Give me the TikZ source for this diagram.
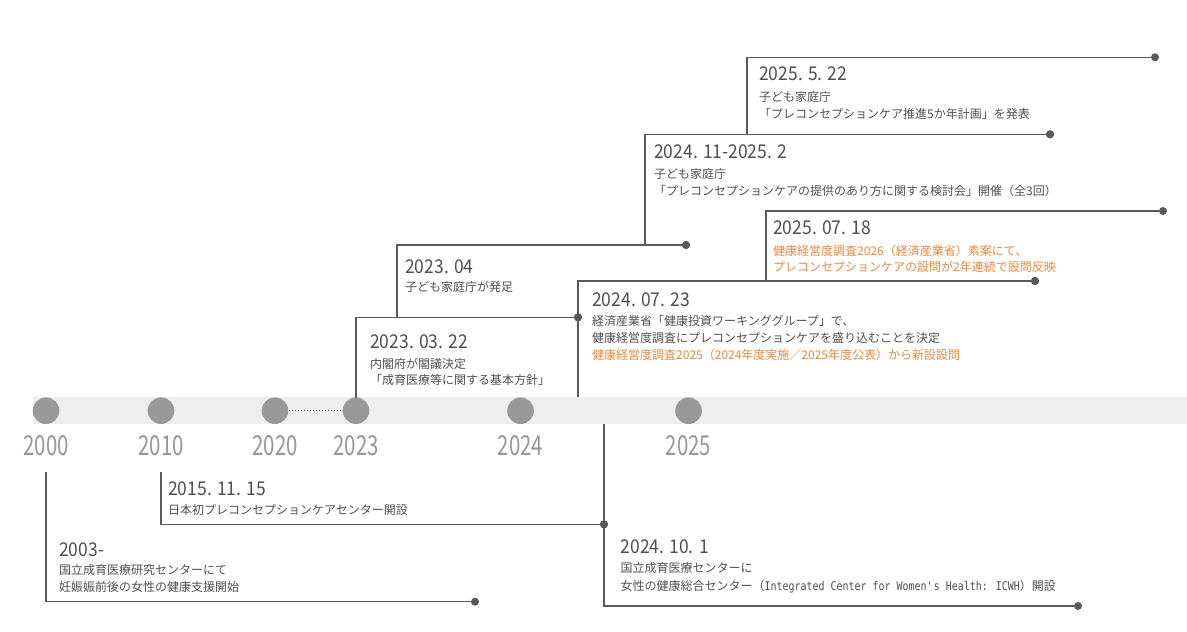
\documentclass[tikz,border=0pt]{standalone}
\usepackage{fontspec}
\setmainfont{Noto Sans CJK JP}
\newfontfamily\jpfont{Noto Sans CJK JP}
\newfontfamily\headfont[FakeStretch=0.92]{Noto Sans CJK JP}
\newfontfamily\yearfont[FakeStretch=0.74]{Noto Sans CJK JP}
\newfontfamily\latinmono[FakeStretch=0.83]{DejaVu Sans Mono}
\definecolor{linec}{HTML}{595959}
\definecolor{txtc}{HTML}{505050}
\definecolor{yearc}{HTML}{979797}
\definecolor{circc}{HTML}{999999}
\definecolor{bandc}{HTML}{EEEEEE}
\definecolor{orangec}{HTML}{E98A3E}
\tikzset{
  conn/.style={draw=linec, line width=1.4pt},
  enddot/.style={circle, fill=linec, inner sep=0pt, minimum size=8pt},
  yeardot/.style={circle, fill=circc, inner sep=0pt, minimum size=26.6pt},
  yearlbl/.style={anchor=base, text=yearc, inner sep=0pt, font=\yearfont\fontsize{27.5}{27.5}\selectfont},
  headlbl/.style={anchor=base west, text=txtc, inner sep=0pt, font=\headfont\fontsize{19}{19}\selectfont},
  bodylbl/.style={anchor=base west, text=txtc, inner sep=0pt, font=\jpfont\fontsize{12}{12}\selectfont},
  orangelbl/.style={bodylbl, text=orangec},
}
\begin{document}
\begin{tikzpicture}[x=1pt,y=-1pt]
\useasboundingbox (0,0) rectangle (1187,632);
\fill[white] (0,0) rectangle (1187,632);
% timeline band
\fill[bandc] (33,397.3) rectangle (1187,424);
% year dots
\node[yeardot] (y2000) at (46,410.7) {};
\node[yeardot] (y2010) at (161,410.7) {};
\node[yeardot] (y2020) at (275,410.7) {};
\node[yeardot] (y2023) at (356,410.7) {};
\node[yeardot] (y2024) at (520.5,410.7) {};
\node[yeardot] (y2025) at (688.5,410.7) {};
\draw[linec, line width=1.2pt, dash pattern=on 1.2pt off 1.8pt] (y2020) -- (y2023);
% year labels
\node[yearlbl] (l2000) at (46,455) {2000};
\node[yearlbl] (l2010) at (161,455) {2010};
\node[yearlbl] (l2020) at (275,455) {2020};
\node[yearlbl] (l2023) at (356,455) {2023};
\node[yearlbl] (l2024) at (520.5,455) {2024};
\node[yearlbl] (l2025) at (688.5,455) {2025};

% --- 2003-
\coordinate (v1) at (46,472);
\node[enddot] (d1) at (475,601.7) {};
\draw[conn] (v1) |- (d1);
\node[headlbl] (h1) at (59,556) {2003-};
\node[bodylbl] (b1a) at (59,574.5) {国立成育医療研究センターにて};
\node[bodylbl] (b1b) at (59,591.8) {妊娠娠前後の女性の健康支援開始};

% --- 2015.11.15
\coordinate (v2) at (161,472);
\node[enddot] (d2) at (604,524.3) {};
\draw[conn] (v2) |- (d2);
\node[headlbl] (h2) at (168,495.3) {2015. 11. 15};
\node[bodylbl] (b2a) at (168,514.5) {日本初プレコンセプションケアセンター開設};

% --- 2024.10.1
\coordinate (v3) at (604,424);
\node[enddot] (d3) at (1078,606) {};
\draw[conn] (v3) |- (d3);
\node[enddot] at (d2) {};
\node[headlbl] (h3) at (620.5,553) {2024. 10. 1};
\node[bodylbl] (b3a) at (620.5,572.8) {国立成育医療センターに};
\node[bodylbl] (b3b) at (620.5,590.2) {女性の健康総合センター（{\latinmono Integrated Center for Women\textquotesingle s Health: ICWH}）開設};

% --- 2023.03.22
\coordinate (v4) at (356,398);
\node[enddot] (d4) at (578,317.3) {};
\draw[conn] (v4) |- (d4);
\node[headlbl] (h4) at (370,348.7) {2023. 03. 22};
\node[bodylbl] (b4a) at (370,368.8) {内閣府が閣議決定};
\node[bodylbl] (b4b) at (370,384.5) {「成育医療等に関する基本方針」};

% --- 2023.04
\coordinate (v5) at (397,317.3);
\node[enddot] (d5) at (686,245) {};
\draw[conn] (v5) |- (d5);
\node[headlbl] (h5) at (405,273) {2023. 04};
\node[bodylbl] (b5a) at (405,291.2) {子ども家庭庁が発足};

% --- 2024.07.23
\coordinate (v6) at (578,397.3);
\node[enddot] (d6) at (1035,281) {};
\draw[conn] (v6) |- (d6);
\node[enddot] at (d4) {};
\node[headlbl] (h6) at (592,306) {2024. 07. 23};
\node[bodylbl] (b6a) at (592,325.5) {経済産業省「健康投資ワーキンググループ」で、};
\node[bodylbl] (b6b) at (592,342.8) {健康経営度調査にプレコンセプションケアを盛り込むことを決定};
\node[orangelbl] (b6c) at (592,359.5) {健康経営度調査2025（2024年度実施／2025年度公表）から新設設問};

% --- 2024.11-2025.2
\coordinate (v7) at (645,245);
\node[enddot] (d7) at (1050,134.3) {};
\draw[conn] (v7) |- (d7);
\node[enddot] at (d5) {};
\node[headlbl] (h7) at (654,158.7) {2024. 11-2025. 2};
\node[bodylbl] (b7a) at (654,178.8) {子ども家庭庁};
\node[bodylbl] (b7b) at (654,195.5) {「プレコンセプションケアの提供のあり方に関する検討会」開催（全3回）};

% --- 2025.5.22
\coordinate (v8) at (747,134.3);
\node[enddot] (d8) at (1155,57.3) {};
\draw[conn] (v8) |- (d8);
\node[enddot] at (d7) {};
\node[headlbl] (h8) at (759,80.7) {2025. 5. 22};
\node[bodylbl] (b8a) at (759,101) {子ども家庭庁};
\node[bodylbl] (b8b) at (759,118) {「プレコンセプションケア推進5か年計画」を発表};

% --- 2025.07.18
\coordinate (v9) at (766,281);
\node[enddot] (d9) at (1163,211) {};
\draw[conn] (v9) |- (d9);
\node[enddot] at (d6) {};
\node[headlbl] (h9) at (773,234.7) {2025. 07. 18};
\node[orangelbl] (b9a) at (773,255.5) {健康経営度調査2026（経済産業省）素案にて、};
\node[orangelbl] (b9b) at (773,271.3) {プレコンセプションケアの設問が2年連続で設問反映};
\end{tikzpicture}
\end{document}
